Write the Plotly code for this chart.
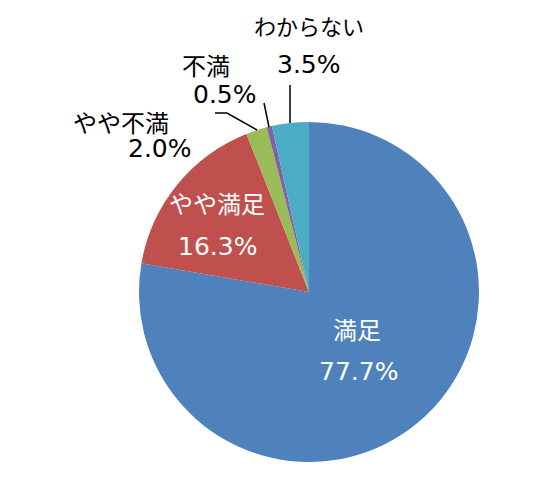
import plotly.graph_objects as go

labels = ["満足", "やや満足", "やや不満", "不満", "わからない"]
values = [77.7, 16.3, 2.0, 0.5, 3.5]
colors = ["#4F81BD", "#C0504D", "#9BBB59", "#8064A2", "#4BACC6"]
pct_text = ["77.7%", "16.3%", "2.0%", "0.5%", "3.5%"]

W, H = 544, 477
OFF = 8  # page body margin
FONT = "DejaVu Sans, Noto Sans CJK JP, sans-serif"
JFONT = "Noto Sans CJK JP, sans-serif"

def px(x, y):
    return (x - OFF) / W, 1 - (y - OFF) / H

x0, y0 = px(139, 462)
x1, y1 = px(479, 122)
fig = go.Figure(go.Pie(
    labels=labels, values=values, sort=False, direction="clockwise", rotation=0,
    marker=dict(colors=colors, line=dict(width=0)),
    textinfo="none", hoverinfo="label+percent",
    domain=dict(x=[x0, x1], y=[y0, y1]),
    showlegend=False,
))

# label placement (pixel positions): (label_xy, percent_xy, colour, label size)
place = [
    ((357, 328), (358, 371), "white", 24),
    ((217, 202), (217, 246), "white", 24),
    ((121, 121), (160, 148), "black", 24),
    ((206, 65), (225, 95), "black", 24),
    ((309, 25), (309, 65), "black", 22),
]
ann = []
for lab, pct, (lxy, pxy, col, ls) in zip(labels, pct_text, place):
    for t, xy, fam, sz in ((lab, lxy, JFONT, ls), (pct, pxy, FONT, 25)):
        x, y = px(*xy)
        ann.append(dict(x=x, y=y, xref="paper", yref="paper", text=t, showarrow=False,
                        font=dict(family=fam, size=sz, color=col),
                        xanchor="center", yanchor="middle"))

leaders = [
    [(215, 113), (227, 113), (257, 130)],
    [(264, 103), (269, 127)],
    [(290, 85), (290, 123)],
]
shapes = []
for pts in leaders:
    path = "M " + " L ".join(f"{px(x, y)[0]},{px(x, y)[1]}" for x, y in pts)
    shapes.append(dict(type="path", path=path, xref="paper", yref="paper",
                       line=dict(color="black", width=1.5)))

fig.update_layout(width=W, height=H, margin=dict(l=0, r=0, t=0, b=0),
                  paper_bgcolor="white", plot_bgcolor="white",
                  annotations=ann, shapes=shapes)
fig.write_html("out.html")
